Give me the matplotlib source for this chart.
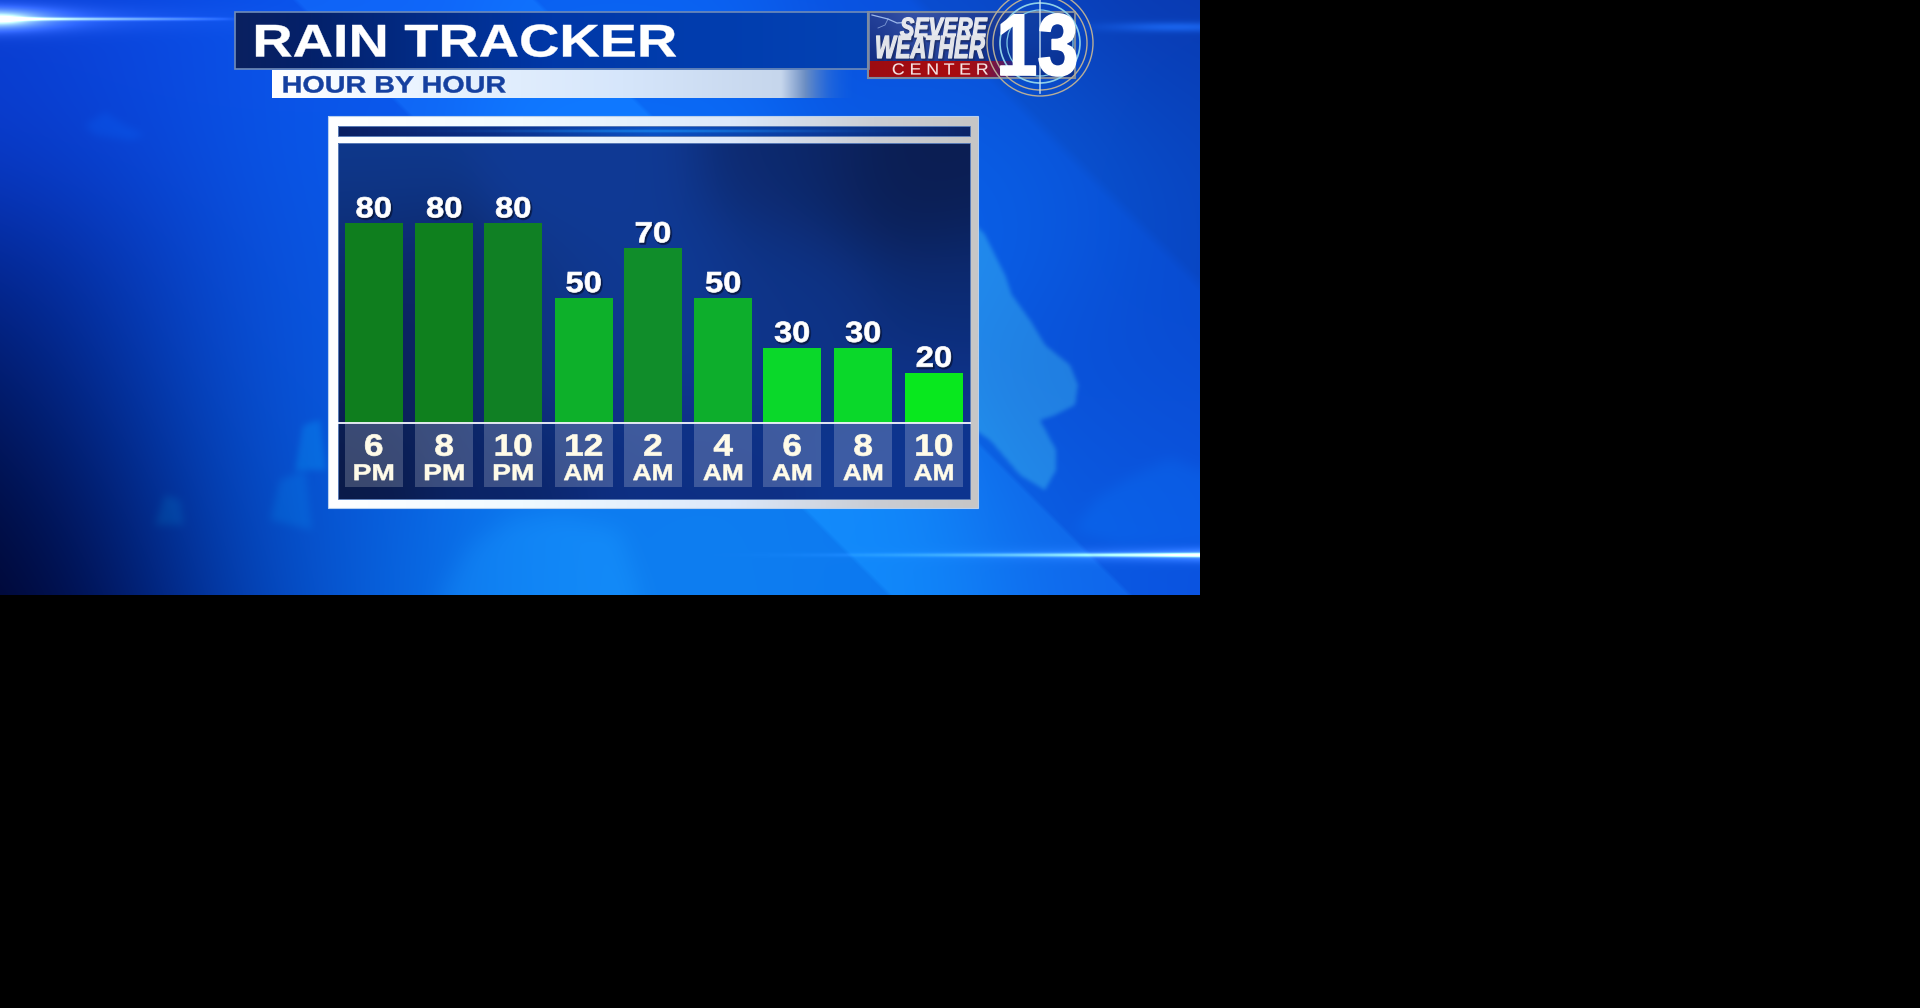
import numpy as np
import matplotlib
matplotlib.use("Agg")
import matplotlib.pyplot as plt
from matplotlib.colors import to_rgb, to_rgba
from matplotlib.patches import Rectangle, Circle
from matplotlib.path import Path
from matplotlib.patheffects import AbstractPathEffect
from matplotlib.transforms import Affine2D

# ---------- chart data ----------
hours = ['6', '8', '10', '12', '2', '4', '6', '8', '10']
periods = ['PM', 'PM', 'PM', 'AM', 'AM', 'AM', 'AM', 'AM', 'AM']
rain_chance = [80, 80, 80, 50, 70, 50, 30, 30, 20]
bar_colors = ['#0f7e1e', '#0f801e', '#108024', '#0db02a', '#108d2a',
              '#0dae2c', '#0ad82a', '#0ad82a', '#08e81e']
title = 'RAIN TRACKER'
subtitle = 'HOUR BY HOUR'

# ---------- layout helpers ----------
W, H = 1920, 1008
plt.rcParams['font.family'] = ['Liberation Sans', 'DejaVu Sans']


class Stretch(AbstractPathEffect):
    """Widens or heightens glyphs about an anchor, as the source lettering is."""
    def __init__(self, sx=1.0, sy=1.0, target=None, anchor='center', shadow=None, bold=0.0):
        super().__init__()
        self.sx, self.sy, self.target, self.anchor = sx, sy, target, anchor
        self.shadow, self.bold = shadow, bold

    def draw_path(self, renderer, gc, tpath, affine, rgbFace=None):
        ext = tpath.get_extents(affine)
        sx = self.target / ext.width if self.target else self.sx
        cx = ext.x0 if self.anchor == 'left' else (ext.x0 + ext.x1) / 2
        base = affine.transform((0, 0))[1]
        a = affine + Affine2D().translate(-cx, -base).scale(sx, self.sy).translate(cx, base)
        if self.shadow is not None:
            g = renderer.new_gc()
            g.copy_properties(gc)
            g.set_linewidth(self.bold + 1.0)
            g.set_foreground(self.shadow)
            g.set_alpha(0.55)
            renderer.draw_path(g, tpath, a + Affine2D().translate(1.2, -1.5), to_rgb(self.shadow))
            g.restore()
        g = renderer.new_gc()
        g.copy_properties(gc)
        g.set_linewidth(self.bold)
        g.set_foreground(rgbFace[:3])
        renderer.draw_path(g, tpath, a, rgbFace)
        g.restore()


def shepard(xx, yy, pts, sigma):
    num = np.zeros(xx.shape + (3,))
    den = np.zeros(xx.shape) + 1e-12
    for x, y, c in pts:
        w = np.exp(-((xx - x) ** 2 + (yy - y) ** 2) / (2 * sigma ** 2))
        num += w[..., None] * np.array(to_rgb(c))
        den += w
    return num / den[..., None]


def hgrad(stops, n=512):
    pos = [s[0] for s in stops]
    cols = np.array([to_rgba(s[1]) for s in stops])
    t = np.linspace(0, 1, n)
    return np.dstack([np.interp(t, pos, cols[:, i]) for i in range(4)])


def blur(a, r):
    k = np.ones(2 * r + 1) / (2 * r + 1)
    for _ in range(2):
        a = np.apply_along_axis(lambda v: np.convolve(np.pad(v, r, mode='edge'), k, 'valid'), 0, a)
        a = np.apply_along_axis(lambda v: np.convolve(np.pad(v, r, mode='edge'), k, 'valid'), 1, a)
    return a


fig = plt.figure(figsize=(W / 100, H / 100), dpi=100, facecolor='black')
deco = fig.add_axes([0, 0, 1, 1], zorder=1)
deco.set_axis_off()


def put(img, x0, x1, y0, y1, z=1):
    deco.imshow(img, extent=(x0, x1, y1, y0), aspect='auto', origin='upper',
                interpolation='bilinear', zorder=z)


# ---------- backdrop ----------
BW, BH = 1200, 595
yy, xx = np.mgrid[0:BH, 0:BW] + 0.5
bg_pts = [
    (0, 0, '#0a3cd0'), (150, 5, '#0b4be8'), (340, 0, '#0a55f0'), (640, 0, '#0a5cf0'),
    (900, 0, '#0a50e0'), (1100, 5, '#0a3fc0'), (1190, 5, '#0a3ab8'),
    (5, 130, '#0a3cd0'), (150, 130, '#0a48dc'), (300, 130, '#0a5aea'), (640, 105, '#0a70f8'),
    (1000, 110, '#0a5ae0'), (1190, 110, '#0748c8'),
    (5, 280, '#03238c'), (150, 280, '#083cc4'), (300, 280, '#0a58e4'), (640, 300, '#0a70f8'),
    (1010, 200, '#0a68f0'), (1100, 200, '#0a58e0'), (1190, 250, '#0644c8'),
    (5, 400, '#000f50'), (100, 400, '#0335a8'), (200, 400, '#0848cc'), (310, 400, '#0a5ce8'),
    (1100, 400, '#0a50d8'), (1190, 400, '#0a48d0'),
    (5, 500, '#00041f'), (80, 500, '#001060'), (150, 500, '#0238a8'), (250, 500, '#0550d0'),
    (320, 530, '#0a6ae8'), (600, 530, '#0e7cf0'), (850, 530, '#0f7cf2'), (1100, 500, '#0a60e0'),
    (1190, 500, '#0c55e0'),
    (5, 590, '#00001a'), (100, 590, '#000030'), (200, 590, '#00248c'), (300, 590, '#0550d0'),
    (450, 590, '#0a78ee'), (700, 590, '#0e80f0'), (900, 590, '#0a78f0'), (1100, 590, '#0a60e8'),
    (1190, 590, '#0a48e0'),
]
bg = shepard(xx, yy, bg_pts, 95)


def edge(v, e, soft=1.5):
    return np.clip((v - e) / soft * 0.5 + 0.5, 0, 1)


diag = xx - yy
band = edge(diag, 295, 3) * (1 - edge(diag, 535, 3))
bg += band[..., None] * np.array([0.02, 0.06, 0.04])
bg -= edge(diag, 915, 8)[..., None] * np.array([0.0, 0.02, 0.05])

grid = np.column_stack([xx.ravel(), yy.ravel()])


def cloud(outline, delta, soft):
    m = Path(outline).contains_points(grid).reshape(xx.shape).astype(float)
    return blur(m, soft)[..., None] * np.array(delta)


bg += cloud([(960, 215), (975, 225), (985, 235), (995, 255), (1005, 275), (1012, 295), (1030, 320),
             (1045, 345), (1070, 365), (1078, 385), (1075, 405), (1055, 415), (1040, 420), (1048, 435),
             (1056, 450), (1056, 470), (1045, 490), (1020, 475), (990, 440), (960, 420)],
            (.09, .17, .03), 2)
bg += cloud([(1075, 530), (1095, 500), (1125, 480), (1170, 458), (1200, 470), (1200, 545), (1120, 545)],
            (.0, .035, .03), 7)
bg += cloud([(440, 595), (470, 545), (510, 520), (560, 515), (620, 530), (640, 595)], (.02, .05, .03), 12)
bg += cloud([(295, 470), (303, 425), (320, 420), (326, 470)], (.0, .09, .05), 3)
bg += cloud([(270, 520), (280, 480), (305, 470), (312, 530)], (.0, .06, .04), 4)
bg += cloud([(155, 525), (165, 495), (180, 500), (184, 525)], (.0, .07, .05), 4)
bg += cloud([(85, 125), (105, 112), (125, 125), (145, 135), (130, 140), (95, 135)], (.0, .035, .04), 4)

# light streaks
core = np.exp(-np.hypot(xx - 2, (yy - 19) * 5) / 24) * 1.2
line = np.exp(-((yy - 19) / 1.6) ** 2) * np.clip(1 - xx / 240, 0, 1) ** 0.8 * 0.7
glow = np.exp(-((yy - 19) / 12) ** 2) * np.exp(-xx / 80) * 0.3
bg += (core + line + glow)[..., None]
tr = np.exp(-((yy - 27) / 5) ** 2) * np.exp(-((xx - 1180) / 70) ** 2)
bg += tr[..., None] * np.array([.06, .14, .20])
ramp = np.clip((xx - 680) / 520, 0, 1)
bl = np.exp(-((yy - 555) / 2.0) ** 2) * ramp ** 2.6 + np.exp(-((yy - 555) / 7) ** 2) * ramp ** 4 * 0.25
bg += bl[..., None] * np.array([.95, .95, .9])
put(np.clip(bg, 0, 1), 0, BW, 0, BH, 1)

# ---------- header ----------
put(hgrad([(0, '#0a2060'), (.12, '#04216a'), (.5, '#0038a8'), (1, '#0342b4')]), 235, 869, 12, 69, 2)
deco.add_patch(Rectangle((235, 12), 634, 57, fill=False, ec='#6f8bb8', lw=1.2, zorder=3))
deco.text(253, 56.5, title, color='white', fontsize=33, fontweight='bold', va='baseline', ha='left',
          zorder=4, path_effects=[Stretch(target=420, anchor='left', bold=0.3)])
put(hgrad([(0, '#ffffff'), (.25, '#eaf4ff'), (.6, '#d6e6fb'), (.87, '#c6d6ec'),
           (.91, '#6e90c4'), (.95, '#2c6cd8c0'), (1, '#0a5ae000')]), 272, 858, 70, 98, 2)
deco.text(282, 92.5, subtitle, color='#1540a0', fontsize=17, fontweight='bold', va='baseline', ha='left',
          zorder=4, path_effects=[Stretch(target=222, anchor='left', bold=0.3)])

# ---------- logo ----------
ly, lx = np.mgrid[12:78, 868:1076] + 0.5
logo_pts = [(868, 12, '#24419a'), (920, 12, '#3e5cb0'), (1000, 12, '#1d3e9c'), (1075, 12, '#12308c'),
            (868, 55, '#102a80'), (940, 40, '#203c94'), (1000, 60, '#0c2c8c'), (1040, 40, '#0a48b8'),
            (1075, 60, '#0b2a88'), (1040, 75, '#0a2f90')]
put(shepard(lx, ly, logo_pts, 25), 868, 1076, 12, 78, 2)
put(hgrad([(0, '#9c0c12'), (.6, '#a80c10'), (.78, '#9a1020'), (.92, '#5a1a60'), (1, '#1a2a90')]), 869, 1015, 61, 77, 2)
deco.add_patch(Rectangle((868, 12), 207, 66, fill=False, ec='#7d8ba0', lw=1.5, zorder=3))
deco.plot([872, 888, 897, 912, 925], [15, 19, 23, 22, 27], color='#b8d4ff', lw=0.9, alpha=.8, zorder=3)
deco.plot([888, 885, 878], [19, 25, 28], color='#b8d4ff', lw=0.6, alpha=.6, zorder=3)
deco.text(900, 37, 'SEVERE', color='#e6e8ee', fontsize=15.4, fontweight='bold', style='italic', va='baseline', ha='left',
          zorder=4, path_effects=[Stretch(target=87, sy=1.3, anchor='left', shadow='#1a2a60', bold=0.9)])
deco.text(875, 58, 'WEATHER', color='#e2e4ea', fontsize=15.4, fontweight='bold', style='italic', va='baseline', ha='left',
          zorder=4, path_effects=[Stretch(target=108, sy=1.5, anchor='left', shadow='#1a2a60', bold=0.9)])
deco.text(892, 74.5, 'C E N T E R', color='#f6e6e6', fontsize=11, va='baseline', ha='left',
          zorder=4, path_effects=[Stretch(target=95, sy=1.05, anchor='left', bold=0.1)])
for r, c, lw in [(53, '#b8ae98', 1.0), (47, '#b8ae98', 1.0), (40, '#8fd0e8', 1.2), (33, '#7fc8e8', 0.9)]:
    deco.add_patch(Circle((1040, 43), r, fill=False, ec=c, lw=lw, zorder=4))
deco.plot([1040, 1040], [0, 93], color='#cfe6f4', lw=1.2, alpha=.8, zorder=4)
deco.text(1037.5, 75, '13', color='white', fontsize=48.5, fontweight='bold', va='baseline', ha='center',
          zorder=5, path_effects=[Stretch(target=75, sy=1.3, bold=1.2)])

# ---------- chart frame ----------
frame = hgrad([(0, '#ffffff'), (.3, '#f0faff'), (.62, '#dce8fa'), (.84, '#cacdd4'), (1, '#c6c6c6')])
put(frame, 328, 978, 116, 508, 2)
deco.add_patch(Rectangle((328, 116), 650, 392, fill=False, ec='#b8d0ee', lw=0.8, zorder=2))
put(hgrad([(0, '#0a1f62'), (.25, '#0a2f88'), (.5, '#0a50c4'), (.75, '#0a3a9c'), (1, '#0a2468')]), 337.5, 969.5, 126, 136, 3)
sy, sx_ = np.mgrid[126:136, 338:970] + 0.5
glint = np.exp(-((sy - 131) / 1.5) ** 2) * np.exp(-((sx_ - 660) / 140) ** 2)
strip = np.dstack([np.full(sy.shape, .1), np.full(sy.shape, .55), np.full(sy.shape, .95), glint * .7])
put(strip, 337.5, 969.5, 126, 136, 3)
py, px = np.mgrid[143:499, 338:970] + 0.5
panel_pts = [(340, 145, '#0f3a8f'), (600, 145, '#103a95'), (800, 145, '#0d2a70'), (900, 160, '#0b1c4e'),
             (965, 145, '#0c1f55'), (965, 300, '#0c2a70'), (960, 400, '#0e3590'), (960, 495, '#0e3590'),
             (650, 495, '#0e3085'), (500, 495, '#0b2468'), (340, 495, '#0a1a48'), (340, 350, '#0b2058'),
             (420, 350, '#0c2460'), (550, 350, '#0f3585'), (650, 300, '#0f3a95'), (340, 250, '#0d2e78'),
             (800, 300, '#0e3488')]
put(shepard(px, py, panel_pts, 60), 337.5, 969.5, 143, 499, 3)
for y0, h in [(126, 10), (143, 356)]:
    deco.add_patch(Rectangle((337.5, y0), 632, h, fill=False, ec='#5a7cb8', lw=0.7, zorder=3))
deco.set_xlim(0, W)
deco.set_ylim(H, 0)

# ---------- the bars ----------
PX_PER_UNIT = 2.49
AX_L, AX_R, AX_T, AX_B, BASE = 337.5, 971, 143, 499, 422.6
SLOT0, SLOT = 374.2, 70
ax = fig.add_axes([AX_L / W, 1 - AX_B / H, (AX_R - AX_L) / W, (AX_B - AX_T) / H], zorder=2)
ax.set_xlim((AX_L - SLOT0) / SLOT, (AX_R - SLOT0) / SLOT)
ax.set_ylim(-(AX_B - BASE) / PX_PER_UNIT, (BASE - AX_T) / PX_PER_UNIT)
ax.patch.set_alpha(0)
for s in ax.spines.values():
    s.set_visible(False)
ax.set_xticks([])
ax.set_yticks([])

nudge = np.array([-.5, 0, -1, -.5, -1.3, -1, -2, -1, -.3]) / SLOT
slots = np.arange(len(rain_chance)) + nudge
bw = 58 / SLOT
ax.bar(slots, rain_chance, width=bw, color=bar_colors, linewidth=0, zorder=2)
ax.bar(slots, [-25] * len(slots), bottom=-0.7, width=bw, color='white', alpha=.2, linewidth=0, zorder=2)
ax.axhline(-0.1, color='#f4f6ff', lw=1.3, zorder=3)

PT = 0.72
for x, v, hr, per in zip(slots, rain_chance, hours, periods):
    ax.annotate(str(v), (x, v), xytext=(0, 6 * PT), textcoords='offset points', ha='center', va='baseline',
                color='white', fontsize=21, fontweight='bold', zorder=5,
                path_effects=[Stretch(target=34, shadow='#06102e', bold=0.5)])
    ax.annotate(hr, (x, 0), xytext=(0, -33 * PT), textcoords='offset points', ha='center', va='baseline',
                color='#fffbe8', fontsize=22, fontweight='bold', zorder=5,
                path_effects=[Stretch(sx=1.15, bold=0.5)])
    ax.annotate(per, (x, 0), xytext=(0, -57.5 * PT), textcoords='offset points', ha='center', va='baseline',
                color='#fffbe8', fontsize=16.5, fontweight='bold', zorder=5,
                path_effects=[Stretch(target=38.5, bold=0.4)])

fig.savefig('out.png', dpi=100, facecolor='black')
